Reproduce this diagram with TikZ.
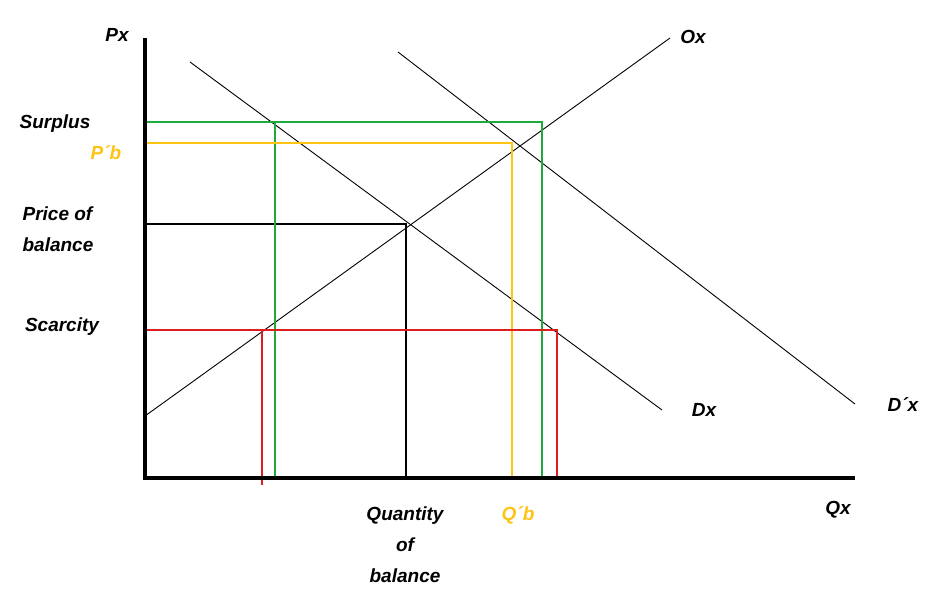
\documentclass[tikz,border=0pt]{standalone}
\usepackage{fontspec}
\setmainfont{Liberation Sans}
\begin{document}
\begin{tikzpicture}[x=1pt,y=-1pt,
  lbl/.style={font=\bfseries\itshape\fontsize{19}{31}\selectfont,align=center},
  ax/.style={line width=4pt},
  thin/.style={line width=0.9pt},
  lvl/.style={line width=2.6pt}]
\definecolor{grn}{RGB}{30,170,60}
\definecolor{ylw}{RGB}{255,195,20}
\definecolor{rd}{RGB}{220,30,30}
\useasboundingbox (0,0) rectangle (940,606);
\coordinate (O) at (145,478);
\coordinate (Ytop) at (145,38);
\coordinate (Xend) at (855,478);
\coordinate (s1) at (145,416); \coordinate (s2) at (670,38);
\coordinate (d1) at (190,62); \coordinate (d2) at (662,410);
\coordinate (e1) at (398,52); \coordinate (e2) at (855,404);
\draw[thin] (s1) -- (s2);
\draw[thin] (d1) -- (d2);
\draw[thin] (e1) -- (e2);
\coordinate (E) at (406,224);
\draw[lvl] (145,224) -- (E) -- (406,478);
\draw[lvl,grn] (145,122) -- (542,122) -- (542,478);
\draw[lvl,grn] (275,122) -- (275,478);
\draw[lvl,ylw] (145,143) -- (512,143) -- (512,478);
\draw[lvl,rd] (145,330) -- (557,330) -- (557,478);
\draw[lvl,rd] (262,330) -- (262,485);
\draw[ax] (Ytop) -- (O) -- (Xend);
\node[lbl] (px) at (117,35) {Px};
\node[lbl] (ox) at (693,37) {Ox};
\node[lbl] (sur) at (55,124) {Surplus};
\node[lbl,text=ylw] (pb) at (106,153) {P´b};
\node[lbl,align=left] (pob) at (58,229) {Price of\\balance};
\node[lbl] (sca) at (62,327) {Scarcity};
\node[lbl] (dx) at (704,410) {Dx};
\node[lbl] (ddx) at (903,405) {D´x};
\node[lbl] (qx) at (838,510) {Qx};
\node[lbl] (qob) at (405,545) {Quantity\\of\\balance};
\node[lbl,text=ylw] (qb) at (518,515) {Q´b};
\end{tikzpicture}
\end{document}
